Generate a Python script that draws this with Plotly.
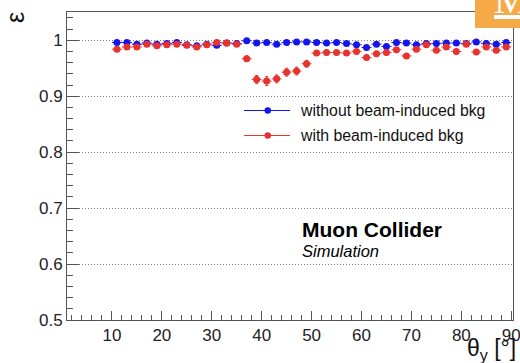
import plotly.graph_objects as go

# Bin centres in polar angle (2-degree bins from 10 to 90 degrees)
theta = list(range(11, 90, 2))

# Efficiency without beam-induced background
eff_nobib = [0.996, 0.996, 0.993, 0.995, 0.993, 0.994, 0.996, 0.992, 0.990, 0.993,
             0.991, 0.995, 0.994, 0.999, 0.995, 0.996, 0.993, 0.996, 0.997, 0.997,
             0.996, 0.995, 0.996, 0.994, 0.992, 0.987, 0.993, 0.989, 0.996, 0.995,
             0.992, 0.994, 0.994, 0.995, 0.995, 0.994, 0.997, 0.994, 0.993, 0.996]
err_nobib = [0.002] * len(theta)

# Efficiency with beam-induced background
eff_bib = [0.984, 0.988, 0.988, 0.993, 0.990, 0.992, 0.993, 0.991, 0.988, 0.992,
           0.996, 0.995, 0.993, 0.967, 0.930, 0.927, 0.931, 0.943, 0.945, 0.958,
           0.977, 0.978, 0.978, 0.977, 0.980, 0.969, 0.976, 0.978, 0.983, 0.972,
           0.984, 0.992, 0.982, 0.988, 0.980, 0.993, 0.979, 0.988, 0.982, 0.988]
err_bib = [0.003, 0.003, 0.003, 0.003, 0.003, 0.003, 0.003, 0.003, 0.003, 0.003,
           0.003, 0.003, 0.003, 0.005, 0.007, 0.008, 0.007, 0.007, 0.007, 0.006,
           0.004, 0.004, 0.004, 0.004, 0.004, 0.004, 0.004, 0.004, 0.004, 0.004,
           0.004, 0.003, 0.004, 0.003, 0.004, 0.003, 0.004, 0.003, 0.004, 0.003]

x_ticks = [10, 20, 30, 40, 50, 60, 70, 80, 90]

half_bin = 1.0

BLUE = "#1414ee"
RED = "#e8322e"

W, H = 520, 363
L, R, T, B = 67, 7, 12, 43


def px(x):
    return (x - L) / (W - L - R)


def py(y):
    return (H - B - y) / (H - T - B)


fig = go.Figure()

for yv, ev, col in [(eff_nobib, err_nobib, BLUE), (eff_bib, err_bib, RED)]:
    fig.add_trace(go.Scatter(
        x=theta, y=yv, mode="markers",
        marker=dict(symbol="circle", size=7, color=col),
        error_x=dict(type="constant", value=half_bin, color=col, thickness=1, width=0),
        error_y=dict(type="data", array=ev, color=col, thickness=1, width=1.5),
        showlegend=False, hoverinfo="skip",
    ))

axis_line = "#555555"
tick_font = dict(family="Liberation Sans, Arial, sans-serif", size=17, color="#222222")

fig.update_xaxes(
    range=[1, 90.35], showgrid=False, zeroline=False, automargin=False,
    showline=True, linecolor=axis_line, linewidth=1, mirror=True,
    ticks="inside", tickmode="array", tickvals=x_ticks, ticklen=9,
    tickcolor=axis_line, tickwidth=1,
    minor=dict(dtick=2, tick0=0, ticks="inside", ticklen=5, tickcolor=axis_line,
               tickwidth=1, showgrid=False),
    tickfont=tick_font, ticklabeloverflow="allow",
)
fig.update_yaxes(
    range=[0.5, 1.0505], zeroline=False, automargin=False,
    showgrid=True, gridcolor="#808080", griddash="1px,2px", gridwidth=1,
    showline=True, linecolor=axis_line, linewidth=1, mirror=True,
    ticks="inside", tick0=0.5, dtick=0.1, ticklen=12, tickcolor=axis_line, tickwidth=1,
    minor=dict(dtick=0.02, ticks="inside", ticklen=6, tickcolor=axis_line, tickwidth=1, showgrid=False),
    tickfont=tick_font,
)

shapes = []
annotations = []

# Legend entries drawn by hand: line + dot + label
for yy, col, label in [(110.5, BLUE, "without beam-induced bkg"),
                       (135.5, RED, "with beam-induced bkg")]:
    shapes.append(dict(type="line", xref="paper", yref="paper",
                       x0=px(244), x1=px(290), y0=py(yy), y1=py(yy),
                       line=dict(color=col, width=1)))
    shapes.append(dict(type="circle", xref="paper", yref="paper",
                       x0=px(264.5), x1=px(271), y0=py(yy + 3.2), y1=py(yy - 3.2),
                       fillcolor=col, line=dict(color=col, width=0)))
    annotations.append(dict(xref="paper", yref="paper", x=px(298), y=py(yy),
                            xanchor="left", yanchor="middle", showarrow=False,
                            text=label,
                            font=dict(family="Liberation Sans, Arial, sans-serif",
                                      size=15.8, color="#111111")))

# Experiment label
annotations.append(dict(xref="paper", yref="paper", x=px(300), y=py(229.5),
                        xanchor="left", yanchor="middle", showarrow=False,
                        text="<b>Muon Collider</b>",
                        font=dict(family="Liberation Sans, Arial, sans-serif",
                                  size=21, color="#000000")))
annotations.append(dict(xref="paper", yref="paper", x=px(300), y=py(251),
                        xanchor="left", yanchor="middle", showarrow=False,
                        text="<i>Simulation</i>",
                        font=dict(family="Liberation Sans, Arial, sans-serif",
                                  size=16.5, color="#000000")))

# Axis titles
annotations.append(dict(xref="paper", yref="paper", x=px(518), y=py(349),
                        xanchor="right", yanchor="middle", showarrow=False,
                        text="θ<sub>y</sub> [°]",
                        font=dict(family="Liberation Sans, Arial, sans-serif",
                                  size=23, color="#111111")))
annotations.append(dict(xref="paper", yref="paper", x=px(15), y=py(18),
                        xanchor="center", yanchor="middle", showarrow=False,
                        text="ε", textangle=-90,
                        font=dict(family="Liberation Sans, Arial, sans-serif",
                                  size=25, color="#111111")))

# Orange corner badge
shapes.append(dict(type="rect", xref="paper", yref="paper",
                   x0=px(475), x1=px(525), y0=py(28), y1=py(-5),
                   fillcolor="#f5a947", line=dict(width=0), layer="above"))
annotations.append(dict(xref="paper", yref="paper", x=px(492), y=py(24),
                        xanchor="left", yanchor="bottom", showarrow=False,
                        text="<u>M</u>",
                        font=dict(family="Liberation Serif, serif", size=40, color="#ffffff")))

fig.update_layout(
    width=W, height=H,
    margin=dict(l=L, r=R, t=T, b=B),
    paper_bgcolor="white", plot_bgcolor="white",
    shapes=shapes, annotations=annotations,
    showlegend=False,
)

fig.write_html("out.html")
